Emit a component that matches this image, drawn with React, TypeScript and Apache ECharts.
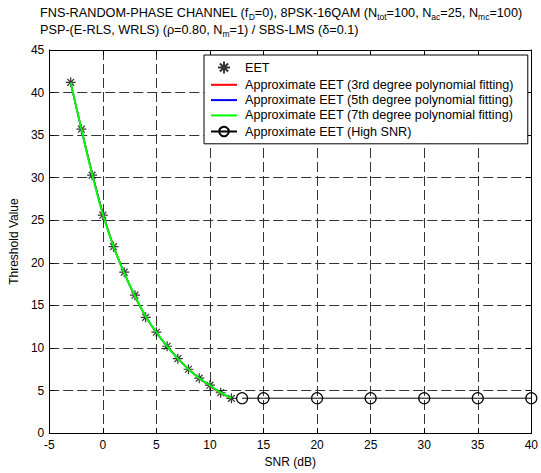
import React, { useEffect, useRef } from "react";
import * as echarts from "echarts";

const FONT = "'Liberation Sans', Arial, Helvetica, sans-serif";

// Tick labels / axis ranges
const xTicks = [-5, 0, 5, 10, 15, 20, 25, 30, 35, 40];
const yTicks = [0, 5, 10, 15, 20, 25, 30, 35, 40, 45];

// EET (simulated) points
const snrEET = [-3, -2, -1, 0, 1, 2, 3, 4, 5, 6, 7, 8, 9, 10, 11, 12];
const eetValues = [41.2, 35.7, 30.3, 25.6, 21.9, 18.9, 16.2, 13.6, 11.85, 10.2, 8.74, 7.5, 6.45, 5.63, 4.74, 4.08];

// Polynomial fits (approximate EET)
const snrFit = [-3, -2, -1, 0, 1, 2, 3, 4, 5, 6, 7, 8, 9, 10, 11, 12];
const fit3 = [41.1, 35.8, 30.6, 25.9, 22.0, 18.8, 16.0, 13.7, 11.8, 10.2, 8.8, 7.55, 6.45, 5.5, 4.7, 4.05];
const fit5 = [41.2, 35.6, 30.5, 25.8, 21.9, 18.8, 16.1, 13.7, 11.8, 10.2, 8.75, 7.5, 6.45, 5.55, 4.75, 4.1];
const fit7 = [41.2, 35.7, 30.4, 25.7, 21.9, 18.8, 16.1, 13.7, 11.85, 10.2, 8.75, 7.5, 6.45, 5.6, 4.75, 4.1];

// High SNR approximation
const snrHigh = [13, 15, 20, 25, 30, 35, 40];
const highValues = [4.1, 4.1, 4.1, 4.1, 4.1, 4.1, 4.1];

const seriesNames = [
  "EET",
  "Approximate EET (3rd degree polynomial fitting)",
  "Approximate EET (5th degree polynomial fitting)",
  "Approximate EET (7th degree polynomial fitting)",
  "Approximate EET (High SNR)",
];

const titleText =
  "FNS-RANDOM-PHASE CHANNEL (f{s|D}=0), 8PSK-16QAM (N{s|tot}=100, N{s|ac}=25, N{s|mc}=100)\n" +
  "PSP-(E-RLS, WRLS) (\u03c1=0.80, N{s|m}=1) / SBS-LMS (\u03b4=0.1)";

const ASTERISK = "path://M5 0L5 10M0 5L10 5M1.6 1.6L8.4 8.4M1.6 8.4L8.4 1.6";

const zip = (xs: number[], ys: number[]) => xs.map((x, i) => [x, ys[i]]);

export default function App() {
  const ref = useRef<HTMLDivElement>(null);
  useEffect(() => {
    if (!ref.current) return;
    const chart = echarts.init(ref.current, undefined, { renderer: "svg" });
    const axisCommon = {
      type: "value" as const,
      axisLine: { show: true, onZero: false, lineStyle: { color: "#000", width: 1 } },
      axisTick: { show: true, inside: true, length: 5, lineStyle: { color: "#000" } },
    };
    const xMin = xTicks[0];
    const xMax = xTicks[xTicks.length - 1];
    const yMin = yTicks[0];
    const yMax = yTicks[yTicks.length - 1];
    const grid = { type: [10, 4] as any, color: "#333", width: 1 };
    const hideSymbol = { opacity: 0 };
    chart.setOption({
      animation: false,
      backgroundColor: "#fff",
      textStyle: { fontFamily: FONT },
      title: {
        text: titleText,
        left: 40,
        top: 4,
        padding: 0,
        textStyle: {
          fontFamily: FONT,
          fontSize: 12.7,
          fontWeight: "normal",
          color: "#000",
          lineHeight: 17,
          rich: {
            s: { fontFamily: FONT, fontSize: 8.5, lineHeight: 10, padding: [8, 0, 0, 0], color: "#000" },
          },
        },
      },
      grid: { left: 45, right: 8, top: 50, bottom: 37, containLabel: false },
      legend: {
        orient: "vertical",
        left: 204,
        top: 55,
        padding: [4, 14, 5, 6],
        itemWidth: 26,
        itemHeight: 12,
        itemGap: 2.3,
        borderColor: "#000",
        borderWidth: 1,
        backgroundColor: "#fff",
        align: "left",
        textStyle: { fontFamily: FONT, fontSize: 12.6, color: "#000", padding: [0, 0, 0, 3] },
        data: [
          { name: seriesNames[0] },
          { name: seriesNames[1], itemStyle: hideSymbol },
          { name: seriesNames[2], itemStyle: hideSymbol },
          { name: seriesNames[3], itemStyle: hideSymbol },
          { name: seriesNames[4] },
        ],
      },
      xAxis: [
        {
          ...axisCommon,
          min: xMin,
          max: xMax,
          interval: 5,
          position: "bottom",
          axisLabel: { color: "#000", fontSize: 12, fontFamily: FONT, margin: 6 },
          splitLine: { show: true, lineStyle: grid },
          name: "SNR (dB)",
          nameLocation: "middle",
          nameGap: 21,
          nameTextStyle: { color: "#000", fontSize: 12, fontFamily: FONT },
        },
        {
          ...axisCommon,
          min: xMin,
          max: xMax,
          interval: 5,
          position: "top",
          axisLabel: { show: false },
          splitLine: { show: false },
        },
      ],
      yAxis: [
        {
          ...axisCommon,
          min: yMin,
          max: yMax,
          interval: 5,
          position: "left",
          axisLabel: { color: "#000", fontSize: 12, fontFamily: FONT, margin: 5 },
          splitLine: { show: true, lineStyle: grid },
          name: "Threshold Value",
          nameLocation: "middle",
          nameGap: 26,
          nameRotate: 90,
          nameTextStyle: { color: "#000", fontSize: 12, fontFamily: FONT },
        },
        {
          ...axisCommon,
          min: yMin,
          max: yMax,
          interval: 5,
          position: "right",
          axisLabel: { show: false },
          splitLine: { show: false },
        },
      ],
      series: [
        {
          name: seriesNames[0],
          type: "scatter",
          data: zip(snrEET, eetValues),
          symbol: ASTERISK,
          symbolSize: 10,
          symbolKeepAspect: true,
          itemStyle: { color: "none", borderColor: "#000", borderWidth: 1.2 },
        },
        {
          name: seriesNames[1],
          type: "line",
          data: zip(snrFit, fit3),
          smooth: 0.3,
          symbol: "none",
          lineStyle: { color: "#ff0000", width: 1.5 },
          itemStyle: { color: "#ff0000" },
        },
        {
          name: seriesNames[2],
          type: "line",
          data: zip(snrFit, fit5),
          smooth: 0.3,
          symbol: "none",
          lineStyle: { color: "#0000ff", width: 1.5 },
          itemStyle: { color: "#0000ff" },
        },
        {
          name: seriesNames[3],
          type: "line",
          data: zip(snrFit, fit7),
          smooth: 0.3,
          symbol: "none",
          lineStyle: { color: "#00ff00", width: 2 },
          itemStyle: { color: "#00ff00" },
        },
        {
          name: seriesNames[4],
          type: "line",
          data: zip(snrHigh, highValues),
          symbol: "circle",
          symbolSize: 11,
          showAllSymbol: true,
          lineStyle: { color: "#000", width: 1 },
          itemStyle: { color: "none", borderColor: "#000", borderWidth: 1.2 },
        },
      ],
    });
    return () => chart.dispose();
  }, []);
  return (
    <div
      ref={ref}
      style={{ position: "fixed", left: 0, top: 0, width: 541, height: 473, background: "#fff" }}
    />
  );
}
